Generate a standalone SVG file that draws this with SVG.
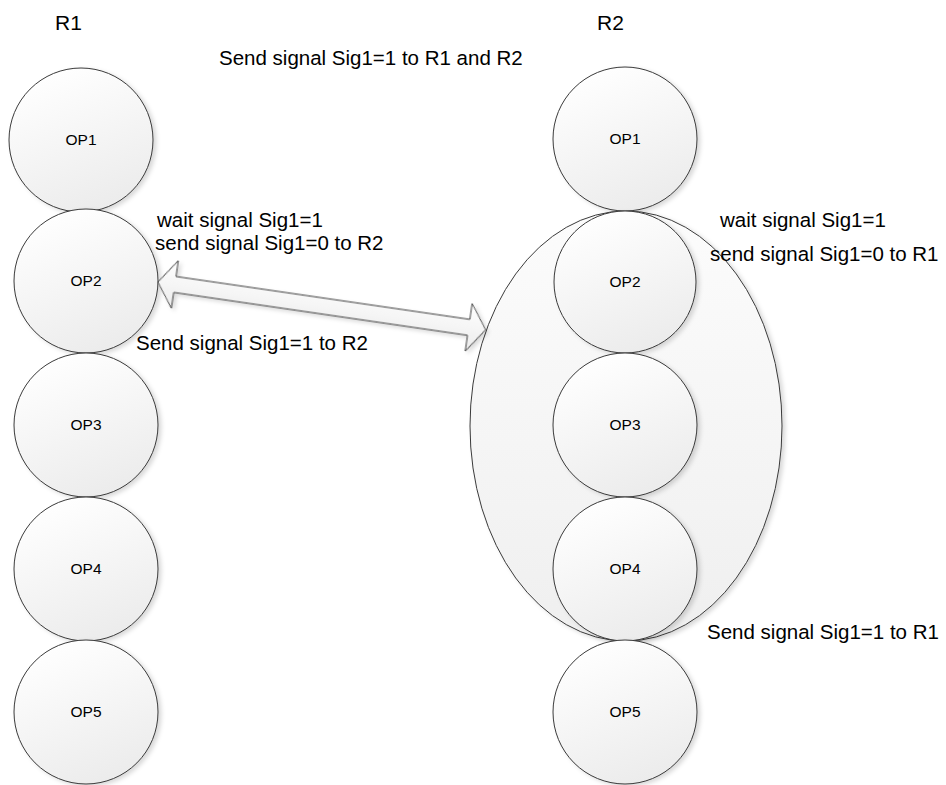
<svg xmlns="http://www.w3.org/2000/svg" width="946" height="785" viewBox="0 0 946 785">
  <defs>
    <linearGradient id="gCircle" x1="0.3" y1="0" x2="0.7" y2="1">
      <stop offset="0" stop-color="#ffffff"/>
      <stop offset="1" stop-color="#ebebeb"/>
    </linearGradient>
    <linearGradient id="gEllipse" x1="0" y1="0" x2="0" y2="1">
      <stop offset="0" stop-color="#fcfcfc"/>
      <stop offset="1" stop-color="#efefef"/>
    </linearGradient>
    <linearGradient id="gArrow" x1="0" y1="0" x2="0" y2="1">
      <stop offset="0" stop-color="#ffffff"/>
      <stop offset="1" stop-color="#ececec"/>
    </linearGradient>
    <filter id="shadow" x="-10%" y="-10%" width="125%" height="125%">
      <feDropShadow dx="3" dy="2" stdDeviation="2" flood-color="#000000" flood-opacity="0.15"/>
    </filter>
  </defs>
  <style>
    .op { fill: url(#gCircle); stroke: #3a3a3a; stroke-width: 1; filter: url(#shadow); }
    .ell { fill: url(#gEllipse); stroke: #3a3a3a; stroke-width: 1; filter: url(#shadow); }
    .arrow { fill: url(#gArrow); stroke: #3a3a3a; stroke-width: 1; filter: url(#shadow); }
    .lbl { font-family: "Liberation Sans", Arial, sans-serif; font-size: 15.5px; fill: #000; text-anchor: middle; }
    .txt { font-family: "Liberation Sans", Arial, sans-serif; font-size: 20.5px; fill: #000; }
    .hdr { font-family: "Liberation Sans", Arial, sans-serif; font-size: 21px; fill: #000; }
  </style>
  <rect width="946" height="785" fill="#ffffff"/>

  <!-- R2 group container -->
  <g id="R2-group">
    <ellipse class="ell" cx="626" cy="426" rx="156" ry="215"/>
  </g>

  <!-- R1 column -->
  <g id="R1-OP1"><circle class="op" cx="81" cy="140" r="72"/><text class="lbl" x="81" y="145">OP1</text></g>
  <g id="R1-OP2"><circle class="op" cx="86" cy="281" r="72"/><text class="lbl" x="86" y="286">OP2</text></g>
  <g id="R1-OP3"><circle class="op" cx="86" cy="425" r="72"/><text class="lbl" x="86" y="430">OP3</text></g>
  <g id="R1-OP4"><circle class="op" cx="86" cy="569" r="72"/><text class="lbl" x="86" y="574">OP4</text></g>
  <g id="R1-OP5"><circle class="op" cx="86" cy="712" r="72"/><text class="lbl" x="86" y="717">OP5</text></g>

  <!-- R2 column -->
  <g id="R2-OP1"><circle class="op" cx="625" cy="139" r="72"/><text class="lbl" x="625" y="144">OP1</text></g>
  <g id="R2-OP2"><circle class="op" cx="625" cy="282" r="71"/><text class="lbl" x="625" y="287">OP2</text></g>
  <g id="R2-OP3"><circle class="op" cx="625" cy="425" r="72"/><text class="lbl" x="625" y="430">OP3</text></g>
  <g id="R2-OP4"><circle class="op" cx="625" cy="569" r="72"/><text class="lbl" x="625" y="574">OP4</text></g>
  <g id="R2-OP5"><circle class="op" cx="625" cy="712" r="72"/><text class="lbl" x="625" y="717">OP5</text></g>

  <!-- connectors -->
  <g id="connectors">
    <path class="arrow" transform="translate(158,282) rotate(8.3)" d="M0,0 L17,-24 L17,-8 L314,-8 L314,-24 L331,0 L314,24 L314,8 L17,8 L17,24 Z"/>
  </g>

  <!-- labels -->
  <g id="labels">
    <text class="hdr" x="55" y="30">R1</text>
    <text class="hdr" x="597" y="30">R2</text>
    <text class="txt" x="219" y="65">Send signal Sig1=1 to R1 and R2</text>
    <text class="txt" x="157" y="227">wait signal Sig1=1</text>
    <text class="txt" x="155" y="250">send signal Sig1=0 to R2</text>
    <text class="txt" x="136" y="350">Send signal Sig1=1 to R2</text>
    <text class="txt" x="720" y="227">wait signal Sig1=1</text>
    <text class="txt" x="710" y="261">send signal Sig1=0 to R1</text>
    <text class="txt" x="707" y="639">Send signal Sig1=1 to R1</text>
  </g>
</svg>
